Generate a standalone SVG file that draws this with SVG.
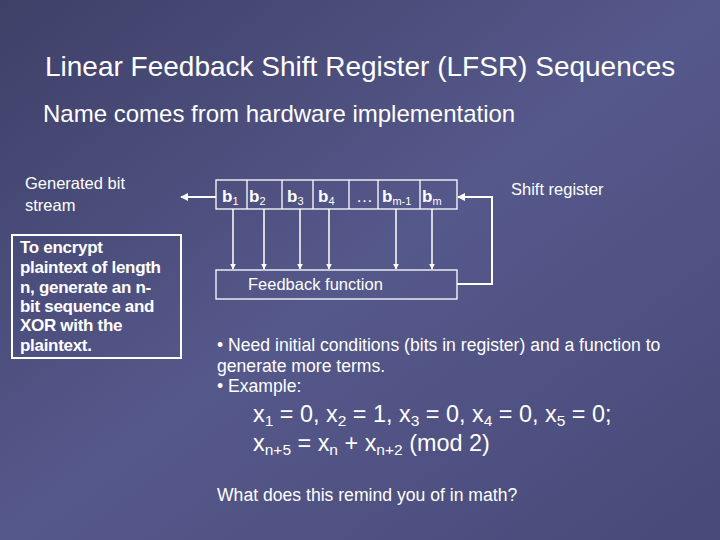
<svg xmlns="http://www.w3.org/2000/svg" width="720" height="540" viewBox="0 0 720 540">
<defs>
<linearGradient id="bg" x1="0" y1="0" x2="1" y2="1">
<stop offset="0" stop-color="#3e4068"/><stop offset="0.5" stop-color="#55588a"/><stop offset="1" stop-color="#474a78"/>
</linearGradient>
<marker id="ah" viewBox="0 0 10 10" refX="9" refY="5" markerWidth="4" markerHeight="4" orient="auto"><path d="M0,0L10,5L0,10z" fill="#fff"/></marker>
<style>
text{font-family:"Liberation Sans",Arial,sans-serif;fill:#fff}
.ln{stroke:#fff;stroke-width:2;fill:none}
.bx{stroke:#fff;stroke-width:1.3;fill:none}
.v{stroke:#fff;stroke-width:1.5;fill:none}
</style>
</defs>
<rect width="720" height="540" fill="url(#bg)"/>
<text x="45" y="76" font-size="28">Linear Feedback Shift Register (LFSR) Sequences</text>
<text x="43" y="122" font-size="24">Name comes from hardware implementation</text>
<g id="stream"><text x="25" y="189" font-size="16.5">Generated bit</text><text x="25" y="211" font-size="16.5">stream</text></g>
<g id="note"><rect x="12" y="235" width="169" height="123" class="ln"/>
<text font-size="17" font-weight="bold" letter-spacing="-0.3"><tspan x="20" y="253">To encrypt</tspan><tspan x="20" y="273">plaintext of length</tspan><tspan x="20" y="293">n, generate an n-</tspan><tspan x="20" y="312">bit sequence and</tspan><tspan x="20" y="331">XOR with the</tspan><tspan x="20" y="351">plaintext.</tspan></text></g>
<g id="register"><rect x="216" y="180" width="241" height="29" class="bx"/>
<path d="M247,180V209M282,180V209M313,180V209M349,180V209M378,180V209M420,180V209" class="bx"/>
<text font-size="17" font-weight="bold" y="202"><tspan x="222">b</tspan><tspan font-size="11" font-weight="normal" dy="3">1</tspan><tspan x="249" dy="-3">b</tspan><tspan font-size="11" font-weight="normal" dy="3">2</tspan><tspan x="287" dy="-3">b</tspan><tspan font-size="11" font-weight="normal" dy="3">3</tspan><tspan x="318" dy="-3">b</tspan><tspan font-size="11" font-weight="normal" dy="3">4</tspan><tspan x="356" dy="-3" font-weight="normal">… </tspan><tspan x="382" font-weight="bold">b</tspan><tspan font-size="11" font-weight="normal" dy="3">m-1</tspan><tspan x="422" dy="-3">b</tspan><tspan font-size="11" font-weight="normal" dy="3">m</tspan></text></g>
<g id="shiftlabel"><text x="511" y="195" font-size="16.5">Shift register</text></g>
<g id="feedback"><rect x="216" y="270" width="241" height="29" class="bx"/><text x="248" y="290" font-size="16.5">Feedback function</text></g>
<g id="connectors">
<path d="M216,197H181" class="ln" marker-end="url(#ah)"/>
<path d="M457,284H492V197H458" class="ln" marker-end="url(#ah)"/>
<path d="M233,209V269" class="v" marker-end="url(#ah)"/>
<path d="M264,209V269" class="v" marker-end="url(#ah)"/>
<path d="M300,209V269" class="v" marker-end="url(#ah)"/>
<path d="M329,209V269" class="v" marker-end="url(#ah)"/>
<path d="M396,209V269" class="v" marker-end="url(#ah)"/>
<path d="M432,209V269" class="v" marker-end="url(#ah)"/>
</g>
<g id="body">
<text font-size="17.6"><tspan x="217" y="351">• Need initial conditions (bits in register) and a function to</tspan><tspan x="217" y="372">generate more terms.</tspan><tspan x="217" y="392">• Example:</tspan></text>
<text font-size="23.4" y="422"><tspan x="253">x</tspan><tspan font-size="15.5" dy="4">1</tspan><tspan dy="-4"> = 0, x</tspan><tspan font-size="15.5" dy="4">2</tspan><tspan dy="-4"> = 1, x</tspan><tspan font-size="15.5" dy="4">3</tspan><tspan dy="-4"> = 0, x</tspan><tspan font-size="15.5" dy="4">4</tspan><tspan dy="-4"> = 0, x</tspan><tspan font-size="15.5" dy="4">5</tspan><tspan dy="-4"> = 0;</tspan></text>
<text font-size="23.4" y="451"><tspan x="253">x</tspan><tspan font-size="15.5" dy="4">n+5</tspan><tspan dy="-4"> = x</tspan><tspan font-size="15.5" dy="4">n</tspan><tspan dy="-4"> + x</tspan><tspan font-size="15.5" dy="4">n+2</tspan><tspan dy="-4"> (mod 2)</tspan></text>
<text x="217" y="501" font-size="17.6">What does this remind you of in math?</text>
</g>
</svg>
